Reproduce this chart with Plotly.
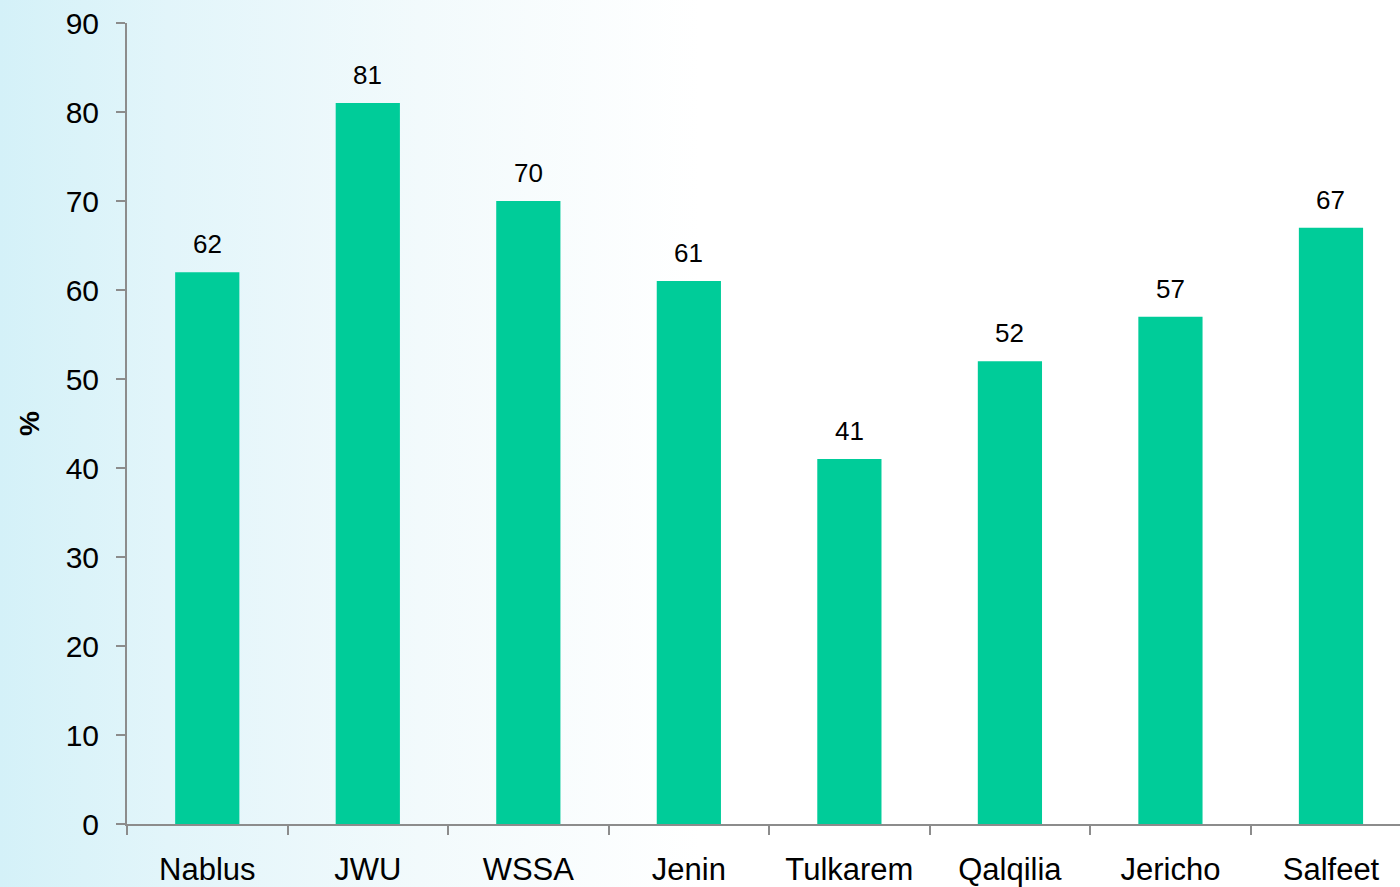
import plotly.graph_objects as go
import urllib.parse

categories = ["Nablus", "JWU", "WSSA", "Jenin", "Tulkarem", "Qalqilia", "Jericho", "Salfeet"]
values = [62, 81, 70, 61, 41, 52, 57, 67]
y_ticks = [0, 10, 20, 30, 40, 50, 60, 70, 80, 90]

BAR = "#00CC99"
AXIS = "#8c8c8c"
FONT = "Liberation Sans, Arial, sans-serif"

svg = (
    "<svg xmlns='http://www.w3.org/2000/svg' width='1400' height='887'>"
    "<defs><linearGradient id='g' x1='0' y1='0' x2='1' y2='0'>"
    "<stop offset='0' stop-color='#d4f1f8'/>"
    "<stop offset='0.12' stop-color='#e2f5fa'/>"
    "<stop offset='0.3' stop-color='#f2fafc'/>"
    "<stop offset='0.5' stop-color='#ffffff'/>"
    "<stop offset='1' stop-color='#ffffff'/>"
    "</linearGradient></defs>"
    "<rect width='1400' height='887' fill='url(#g)'/>"
    "</svg>"
)
src = "data:image/svg+xml;charset=utf-8," + urllib.parse.quote(svg)

fig = go.Figure()
fig.add_trace(go.Bar(
    x=categories, y=values, marker=dict(color=BAR, line=dict(width=0)),
    width=0.4, hoverinfo="skip",
))

for c, v in zip(categories, values):
    fig.add_annotation(x=c, y=v, text=str(v), showarrow=False, yanchor="bottom",
                       yshift=11, font=dict(size=26, color="black", family=FONT))

fig.update_layout(
    width=1400, height=887,
    margin=dict(l=127, r=0, t=23, b=63),
    paper_bgcolor="white", plot_bgcolor="rgba(0,0,0,0)",
    font=dict(family=FONT, color="black"),
    showlegend=False,
    images=[dict(source=src, xref="paper", yref="paper", x=-127/1273, y=1 + 23/801,
                 sizex=1400/1273, sizey=887/801, xanchor="left", yanchor="top",
                 sizing="stretch", layer="below")],
)
fig.update_xaxes(
    type="category", range=[-0.5, 7.43], showgrid=False, showline=True,
    linecolor=AXIS, linewidth=2, ticks="outside", tickson="boundaries",
    ticklen=9, tickwidth=2, tickcolor=AXIS, tickfont=dict(size=31),
    ticklabelstandoff=17,
)
fig.update_yaxes(
    range=[0, 90], tickvals=y_ticks, showgrid=False, showline=True, zeroline=False,
    linecolor=AXIS, linewidth=2, ticks="outside", ticklen=9, tickwidth=2,
    tickcolor=AXIS, tickfont=dict(size=30), ticklabelstandoff=11,
    title=dict(text="<b>%</b>", font=dict(size=28), standoff=18),
)

fig.write_html("out.html", config={"displayModeBar": False},
               post_script="document.body.style.margin='0';document.body.style.overflow='hidden';")
